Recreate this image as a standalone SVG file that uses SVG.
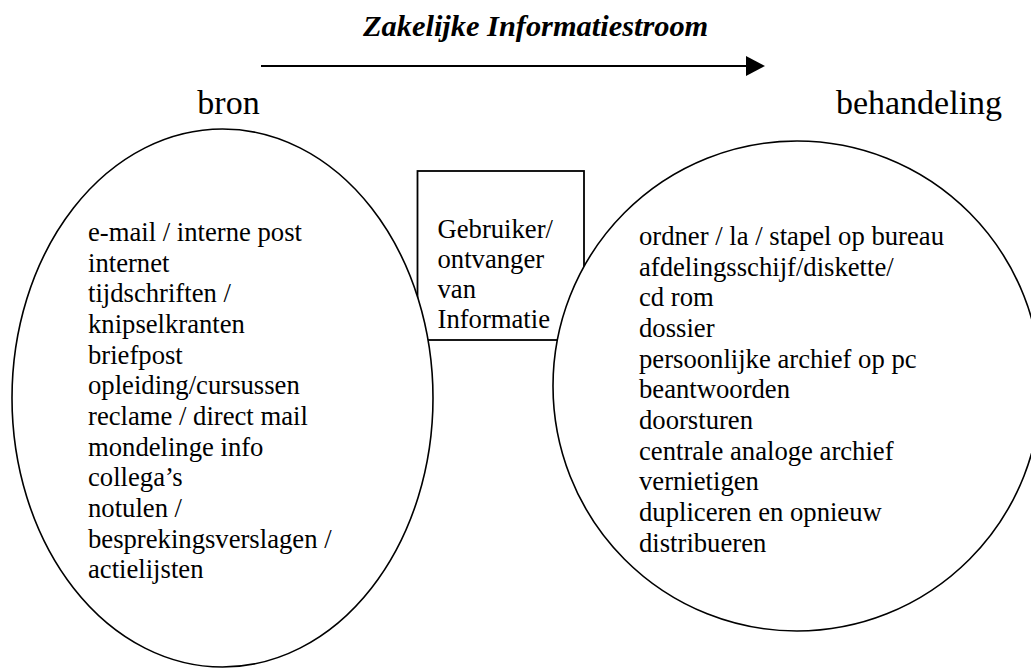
<svg xmlns="http://www.w3.org/2000/svg" width="1031" height="670" viewBox="0 0 1031 670" font-family="'Liberation Serif', 'Times New Roman', Times, serif">
<defs>
<style>
text{font-family:'Liberation Serif','Times New Roman',Times,serif;fill:#000}
.t{font-size:26.67px}
.h{font-size:34px;text-anchor:middle}
.title{font-size:30.4px;font-weight:bold;font-style:italic}
.shape{fill:#fff;stroke:#000;stroke-width:1.6}
</style>
</defs>
<rect width="1031" height="670" fill="#fff"/>
<g id="title">
<text class="title" x="363" y="36">Zakelijke Informatiestroom</text>
</g>
<g id="connectors">
<line x1="261" y1="66" x2="746" y2="66" stroke="#000" stroke-width="2"/>
<polygon points="746,56 765,66 746,76" fill="#000"/>
</g>
<g id="label-bron"><text class="h" x="228.5" y="114">bron</text></g>
<g id="label-behandeling"><text class="h" x="919" y="114">behandeling</text></g>
<g id="gebruiker">
<rect x="417.5" y="171" width="166.5" height="169" fill="#fff" stroke="#000" stroke-width="1.8"/>
<text class="t"><tspan x="437.5" y="238">Gebruiker/</tspan><tspan x="437.5" y="268">ontvanger</tspan><tspan x="437.5" y="298">van</tspan><tspan x="437.5" y="327.5">Informatie</tspan></text>
</g>
<g id="bron">
<ellipse class="shape" cx="222.5" cy="398" rx="210.5" ry="269"/>
<text class="t"><tspan x="88" y="241">e-mail / interne post</tspan><tspan x="88" y="271.67">internet</tspan><tspan x="88" y="302.33">tijdschriften /</tspan><tspan x="88" y="333">knipselkranten</tspan><tspan x="88" y="363.67">briefpost</tspan><tspan x="88" y="394.33">opleiding/cursussen</tspan><tspan x="88" y="425">reclame / direct mail</tspan><tspan x="88" y="455.67">mondelinge info</tspan><tspan x="88" y="486.33">collega’s</tspan><tspan x="88" y="517">notulen /</tspan><tspan x="88" y="547.67">besprekingsverslagen /</tspan><tspan x="88" y="578.33">actielijsten</tspan></text>
</g>
<g id="behandeling">
<ellipse class="shape" cx="797" cy="386" rx="244" ry="245"/>
<text class="t"><tspan x="639" y="245">ordner / la / stapel op bureau</tspan><tspan x="639" y="275.67">afdelingsschijf/diskette/</tspan><tspan x="639" y="306.33">cd rom</tspan><tspan x="639" y="337">dossier</tspan><tspan x="639" y="367.67">persoonlijke archief op pc</tspan><tspan x="639" y="398.33">beantwoorden</tspan><tspan x="639" y="429">doorsturen</tspan><tspan x="639" y="459.67">centrale analoge archief</tspan><tspan x="639" y="490.33">vernietigen</tspan><tspan x="639" y="521">dupliceren en opnieuw</tspan><tspan x="639" y="551.67">distribueren</tspan></text>
</g>
</svg>
